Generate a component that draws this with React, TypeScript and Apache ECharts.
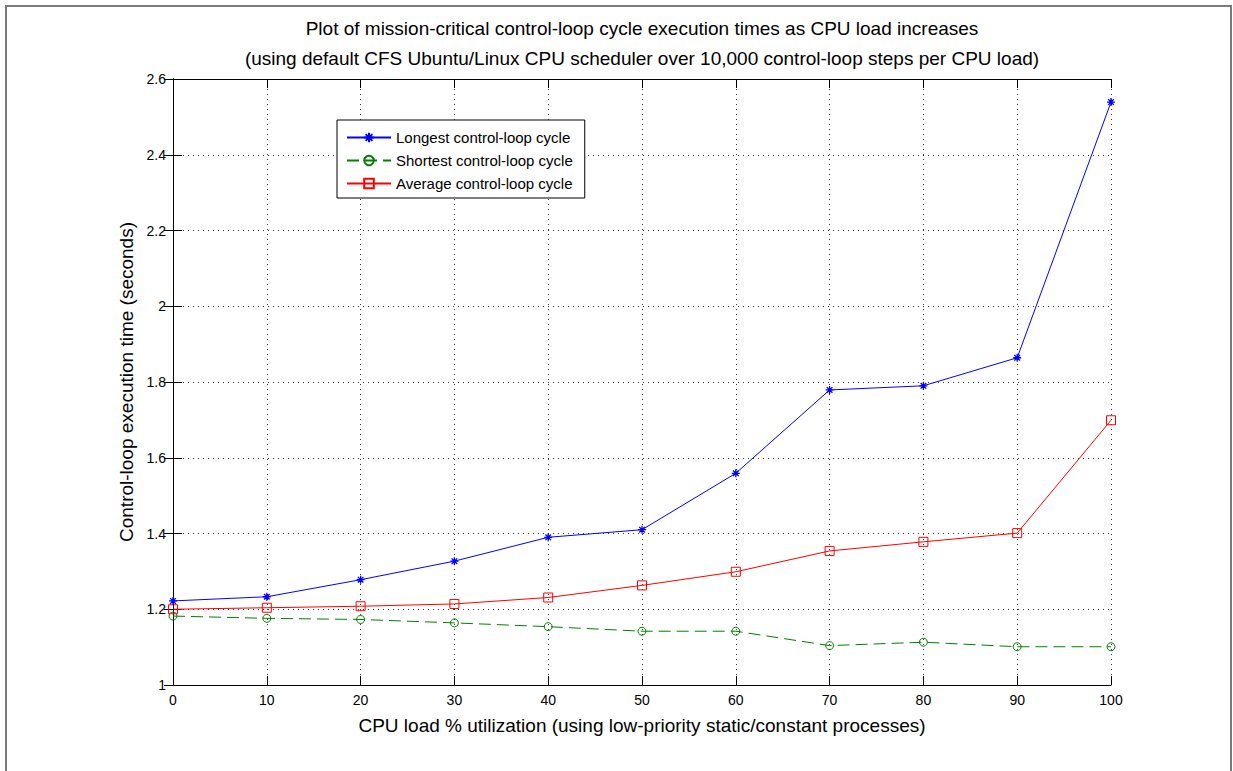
import React, { useEffect, useRef } from "react";
import * as echarts from "echarts";

const xLoad = [0, 10, 20, 30, 40, 50, 60, 70, 80, 90, 100];
const longest = [1.222, 1.233, 1.278, 1.327, 1.39, 1.41, 1.559, 1.779, 1.79, 1.864, 2.539];
const shortest = [1.182, 1.176, 1.173, 1.164, 1.154, 1.142, 1.142, 1.104, 1.113, 1.101, 1.101];
const average = [1.2, 1.204, 1.208, 1.214, 1.231, 1.263, 1.299, 1.354, 1.378, 1.401, 1.699];
const seriesNames = ["Longest control-loop cycle", "Shortest control-loop cycle", "Average control-loop cycle"];
const titleLines = [
  "Plot of mission-critical control-loop cycle execution times as CPU load increases",
  "(using default CFS Ubuntu/Linux CPU scheduler over 10,000 control-loop steps per CPU load)",
];
const xName = "CPU load % utilization (using low-priority static/constant processes)";
const yName = "Control-loop execution time (seconds)";

const FONT = "'Liberation Sans', Arial, Helvetica, sans-serif";

export default function App() {
  const ref = useRef<HTMLDivElement>(null);
  useEffect(() => {
    if (!ref.current) return;
    const chart = echarts.init(ref.current, undefined, { renderer: "svg" });
    const pairs = (ys: number[]) => xLoad.map((x, i) => [x, ys[i]]);
    const grid = { left: 173, top: 79, right: 122, bottom: 86 };
    const axisLine = { show: true, lineStyle: { color: "#000", width: 1 } };
    const tick = { show: true, inside: true, length: 9, lineStyle: { color: "#000", width: 1 } };
    const split = { show: true, lineStyle: { color: "#333", width: 1, type: [1, 4] as any } };
    const label = { color: "#000", fontSize: 14, fontFamily: FONT, margin: 8 };
    const asterisk = "path://M5,0L5,10M0,5L10,5M1.5,1.5L8.5,8.5M1.5,8.5L8.5,1.5";
    const plotCenter = 173 + (1233 - 173 - 122) / 2;

    chart.setOption({
      animation: false,
      backgroundColor: "#fff",
      textStyle: { fontFamily: FONT },
      grid,
      graphic: [
        {
          type: "rect",
          silent: true,
          shape: { x: 6, y: 6, width: 1225, height: 800 },
          style: { fill: "none", stroke: "#7a7a7a", lineWidth: 2 },
        },
        {
          type: "text",
          x: plotCenter,
          y: 28,
          style: {
            text: titleLines[0],
            fill: "#000",
            font: `19px ${FONT}`,
            textAlign: "center",
            textVerticalAlign: "middle",
          },
        },
        {
          type: "text",
          x: plotCenter,
          y: 58,
          style: {
            text: titleLines[1],
            fill: "#000",
            font: `19px ${FONT}`,
            textAlign: "center",
            textVerticalAlign: "middle",
          },
        },
      ],
      legend: {
        orient: "vertical",
        left: 337,
        top: 120,
        data: seriesNames,
        itemWidth: 44,
        itemHeight: 12,
        itemGap: 8,
        padding: [10, 12, 7, 9],
        borderColor: "#000",
        borderWidth: 1,
        backgroundColor: "#fff",
        textStyle: { color: "#000", fontSize: 15, fontFamily: FONT },
      },
      xAxis: [
        {
          type: "value",
          min: 0,
          max: 100,
          interval: 10,
          name: xName,
          nameLocation: "middle",
          nameGap: 31,
          nameTextStyle: { color: "#000", fontSize: 19, fontFamily: FONT },
          axisLine,
          axisTick: tick,
          splitLine: split,
          axisLabel: label,
        },
        {
          type: "value",
          position: "top",
          min: 0,
          max: 100,
          interval: 10,
          axisLine,
          axisTick: tick,
          splitLine: { show: false },
          axisLabel: { show: false },
        },
      ],
      yAxis: [
        {
          type: "value",
          min: 1,
          max: 2.6,
          interval: 0.2,
          name: yName,
          nameLocation: "middle",
          nameGap: 35,
          nameTextStyle: { color: "#000", fontSize: 19, fontFamily: FONT },
          axisLine,
          axisTick: tick,
          splitLine: split,
          axisLabel: { ...label, margin: 7 },
        },
        {
          type: "value",
          position: "right",
          min: 1,
          max: 2.6,
          interval: 0.2,
          axisLine,
          axisTick: tick,
          splitLine: { show: false },
          axisLabel: { show: false },
        },
      ],
      series: [
        {
          name: seriesNames[0],
          type: "line",
          data: pairs(longest),
          clip: false,
          symbol: asterisk,
          symbolSize: 8,
          color: "#0000ff",
          lineStyle: { color: "#0000ff", width: 1 },
          itemStyle: { color: "rgba(0,0,0,0)", borderColor: "#0000ff", borderWidth: 1.3 },
          z: 4,
        },
        {
          name: seriesNames[1],
          type: "line",
          data: pairs(shortest),
          clip: false,
          symbol: "circle",
          symbolSize: 8,
          color: "#008000",
          lineStyle: { color: "#008000", width: 1, type: [12, 6] },
          itemStyle: { color: "rgba(0,0,0,0)", borderColor: "#008000", borderWidth: 1 },
          z: 3,
        },
        {
          name: seriesNames[2],
          type: "line",
          data: pairs(average),
          clip: false,
          symbol: "rect",
          symbolSize: 9,
          color: "#ff0000",
          lineStyle: { color: "#ff0000", width: 1 },
          itemStyle: { color: "rgba(0,0,0,0)", borderColor: "#ff0000", borderWidth: 1 },
          z: 3,
        },
      ],
    });
    return () => chart.dispose();
  }, []);
  return (
    <div
      ref={ref}
      style={{ position: "fixed", left: 0, top: 0, width: 1233, height: 771 }}
    />
  );
}
